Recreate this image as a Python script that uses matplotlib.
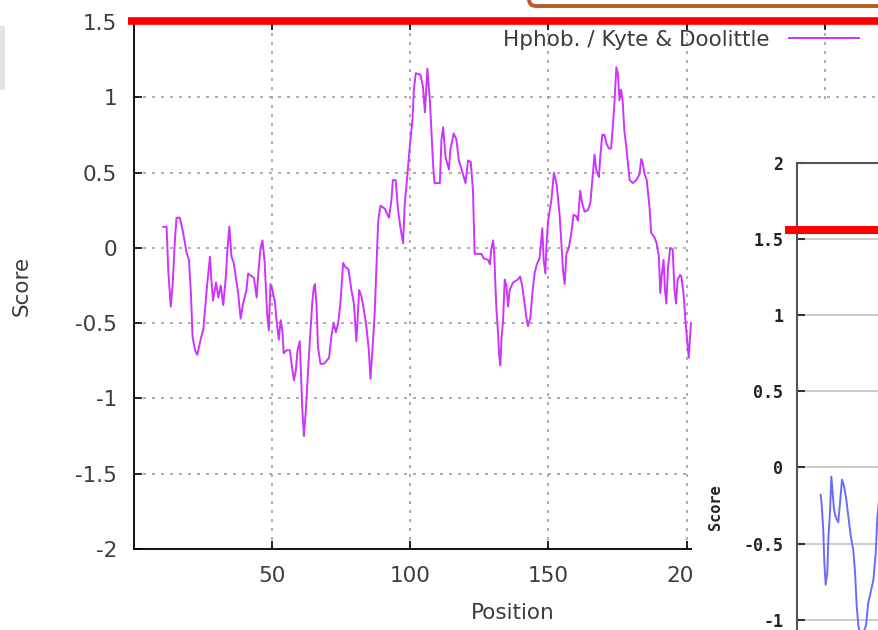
import matplotlib
matplotlib.use("Agg")
import matplotlib.pyplot as plt
from matplotlib.transforms import Affine2D
from matplotlib.patches import Rectangle, FancyBboxPatch
from matplotlib.lines import Line2D
from matplotlib.ticker import FuncFormatter

plt.rcParams['axes.unicode_minus'] = False

# hydrophobicity profile (Kyte & Doolittle)
position = [
    10.6, 11.8, 12.4, 13.3, 14.0, 14.8, 15.4, 16.6, 17.8, 19.0,
    19.9, 20.6, 21.2, 22.1, 22.9, 24.1, 25.1, 26.0, 26.5, 27.5,
    28.1, 28.6, 29.7, 30.5, 31.4, 32.3, 33.3, 33.7, 34.5, 35.3,
    36.1, 37.7, 38.6, 39.5, 40.7, 41.3, 43.4, 44.4, 44.9, 45.8,
    46.5, 47.3, 48.2, 48.8, 49.4, 50.1, 51.0, 51.6, 52.4, 53.1,
    53.7, 54.2, 55.2, 56.4, 57.2, 57.9, 58.6, 59.2, 60.0, 60.4,
    60.9, 61.5, 62.2, 62.7, 63.3, 63.9, 64.5, 65.1, 65.5, 66.1,
    66.6, 67.5, 68.7, 69.7, 70.6, 71.5, 72.3, 73.1, 73.9, 74.7,
    75.7, 76.6, 77.6, 78.7, 79.6, 80.5, 81.5, 82.3, 83.2, 84.1,
    85.0, 85.6, 86.3, 87.1, 87.7, 88.4, 89.2, 90.8, 92.3, 93.2,
    93.7, 94.7, 95.6, 96.4, 97.4, 98.0, 98.8, 99.8, 100.8, 101.3,
    102.0, 103.7, 104.6, 105.3, 106.2, 107.1, 107.7, 108.3, 108.8, 110.7,
    111.3, 111.9, 112.8, 114.0, 114.5, 115.7, 116.7, 117.6, 119.1, 120.0,
    120.9, 121.9, 122.7, 123.3, 125.7, 126.6, 128.2, 128.8, 129.4, 130.0,
    130.4, 130.8, 131.2, 131.8, 132.1, 132.6, 133.0, 133.6, 134.2, 134.8,
    135.4, 136.0, 137.2, 139.0, 139.8, 140.5, 141.4, 142.0, 142.6, 143.5,
    144.2, 145.0, 145.8, 146.8, 147.4, 147.8, 148.3, 148.9, 149.3, 149.9,
    150.5, 151.1, 152.0, 153.0, 154.1, 155.3, 155.9, 156.5, 157.4, 158.3,
    159.1, 160.1, 160.7, 161.5, 162.2, 163.1, 164.3, 165.2, 165.9, 166.7,
    167.3, 168.3, 168.8, 169.5, 170.3, 171.1, 171.9, 172.7, 173.3, 173.9,
    174.6, 175.2, 175.7, 176.3, 176.9, 177.5, 178.2, 178.8, 179.4, 180.6,
    181.8, 183.0, 183.6, 184.2, 184.8, 185.6, 186.6, 187.2, 188.4, 189.2,
    190.0, 190.5, 191.1, 191.7, 192.2, 192.7, 193.3, 194.1, 195.0, 195.6,
    196.2, 196.8, 197.7, 198.1, 198.9, 199.6, 200.2, 200.8, 201.6,
]
score = [
    0.14, 0.14, -0.15, -0.39, -0.24, 0.05, 0.20, 0.20, 0.10, -0.03,
    -0.08, -0.30, -0.59, -0.68, -0.71, -0.61, -0.54, -0.35, -0.24, -0.06,
    -0.24, -0.35, -0.23, -0.33, -0.25, -0.38, -0.18, -0.04, 0.14, -0.06,
    -0.10, -0.30, -0.47, -0.37, -0.28, -0.17, -0.20, -0.33, -0.19, 0.00,
    0.05, -0.10, -0.44, -0.55, -0.24, -0.28, -0.36, -0.48, -0.61, -0.48,
    -0.55, -0.70, -0.68, -0.68, -0.79, -0.88, -0.81, -0.68, -0.62, -0.81,
    -1.06, -1.25, -1.08, -0.92, -0.72, -0.55, -0.37, -0.26, -0.24, -0.39,
    -0.66, -0.77, -0.77, -0.75, -0.73, -0.58, -0.50, -0.56, -0.50, -0.37,
    -0.10, -0.13, -0.14, -0.28, -0.37, -0.62, -0.28, -0.32, -0.41, -0.52,
    -0.68, -0.87, -0.68, -0.44, -0.15, 0.18, 0.28, 0.26, 0.20, 0.32,
    0.45, 0.45, 0.25, 0.14, 0.03, 0.29, 0.45, 0.67, 0.85, 1.05,
    1.16, 1.15, 1.07, 0.90, 1.19, 0.98, 0.76, 0.54, 0.43, 0.43,
    0.72, 0.80, 0.60, 0.52, 0.65, 0.76, 0.72, 0.58, 0.49, 0.43,
    0.58, 0.57, 0.38, -0.04, -0.04, -0.07, -0.08, -0.11, 0.00, 0.05,
    -0.04, -0.24, -0.41, -0.57, -0.70, -0.78, -0.61, -0.48, -0.21, -0.25,
    -0.39, -0.28, -0.23, -0.21, -0.19, -0.25, -0.37, -0.46, -0.52, -0.46,
    -0.30, -0.17, -0.11, -0.07, 0.05, 0.13, -0.08, -0.17, 0.02, 0.18,
    0.25, 0.32, 0.50, 0.42, 0.21, -0.15, -0.24, -0.04, 0.00, 0.10,
    0.22, 0.21, 0.18, 0.38, 0.30, 0.24, 0.25, 0.30, 0.45, 0.62,
    0.52, 0.47, 0.61, 0.75, 0.75, 0.69, 0.66, 0.66, 0.80, 0.96,
    1.20, 1.15, 0.98, 1.05, 0.97, 0.78, 0.67, 0.56, 0.45, 0.43,
    0.45, 0.49, 0.59, 0.56, 0.49, 0.45, 0.27, 0.10, 0.07, 0.03,
    -0.06, -0.30, -0.17, -0.08, -0.28, -0.37, -0.13, 0.00, -0.01, -0.27,
    -0.37, -0.21, -0.18, -0.19, -0.30, -0.48, -0.61, -0.73, -0.50,
]
xticks = [50, 100, 150, 200, 250]
yticks = [-2, -1.5, -1, -0.5, 0, 0.5, 1, 1.5]

# second (overlapping) screenshot, blue profile
inset_pos = [15.8, 16.5, 17.5, 18.2, 19.1, 20.2, 20.9, 22.0, 22.9, 23.8,
             24.7, 26.0, 27.5, 28.7, 30.0, 31.3, 32.7, 34.2, 35.8, 37.5,
             38.7, 39.8, 40.9, 42.7, 46.0, 47.5, 49.1, 50.9, 52.5, 53.5,
             54.7, 56.0]
inset_score = [-0.18, -0.25, -0.41, -0.62, -0.77, -0.69, -0.47, -0.29, -0.06, -0.17,
               -0.28, -0.33, -0.36, -0.23, -0.08, -0.12, -0.20, -0.32, -0.45, -0.54,
               -0.69, -0.91, -1.04, -1.12, -1.04, -0.89, -0.82, -0.74, -0.56, -0.34,
               -0.21, -0.15]
inset_yticks = [-2.5, -2, -1.5, -1, -0.5, 0, 0.5, 1, 1.5, 2]

W, H = 879, 630
fig = plt.figure(figsize=(W / 100, H / 100), dpi=100)
# pixel coords, origin top-left
px = Affine2D().scale(1 / W, -1 / H).translate(0, 1) + fig.transFigure
fmt = FuncFormatter(lambda v, _: f"{v:g}")
txt = '#3c3c3c'

# main chart
ax = fig.add_axes([134 / W, 1 - 549 / H, 768 / W, 527 / H])
ax.plot(position, score, color='#cc33ff', lw=1.4, label='Hphob. / Kyte & Doolittle', zorder=3)
ax.set_xlim(0, 278)
ax.set_ylim(-2, 1.5)
ax.set_xticks(xticks)
ax.set_yticks(yticks)
ax.yaxis.set_major_formatter(fmt)
ax.grid(True, color='#a0a0a0', linestyle=(0, (1.8, 3.6)), lw=1.2)
ax.tick_params(direction='in', length=6, width=1.2, labelsize=15.5, labelcolor=txt,
               pad=12, top=True)
for s in ax.spines.values():
    s.set_linewidth(1.3)
ax.set_xlabel('Position', fontsize=15.5, color=txt)
ax.set_ylabel('Score', fontsize=15.5, color=txt)
ax.xaxis.set_label_coords((513 - 134) / 768, (549 - 603) / 527)
ax.yaxis.set_label_coords((32 - 134) / 768, 0.5)
ax.legend(loc='center right', bbox_to_anchor=(859, 40), bbox_transform=px,
          frameon=False, markerfirst=False, fontsize=15.5, labelcolor=txt,
          handlelength=3.25, handletextpad=0.9, borderpad=0, borderaxespad=0)

# white area of the overlapping screenshot
fig.add_artist(Rectangle((692, 105), 200, 540, transform=px, facecolor='white',
                         edgecolor='none', zorder=1.5))

ax2 = fig.add_axes([797 / W, 1 - 848 / H, 600 / W, 685 / H], zorder=2)
ax2.plot(inset_pos, inset_score, color='#6a6aff', lw=1.4)
ax2.set_xlim(0, 400)
ax2.set_ylim(-2.5, 2)
ax2.set_yticks(inset_yticks)
ax2.yaxis.set_major_formatter(fmt)
ax2.set_xticks([])
ax2.yaxis.grid(True, color='#c8c8c8', lw=1.3)
ax2.tick_params(axis='y', direction='in', length=6, width=1.5, color='#333333',
                labelsize=12, pad=10)
for lab in ax2.get_yticklabels():
    lab.set_fontfamily('DejaVu Sans Mono')
    lab.set_fontweight('bold')
    lab.set_color('#222222')
for s in ax2.spines.values():
    s.set_color('#555555')
    s.set_linewidth(1.5)
ax2.set_ylabel('Score', fontsize=11, family='DejaVu Sans Mono', fontweight='bold', color='#222222')
ax2.yaxis.set_label_coords((723 - 797) / 600, (848 - 507) / 685)

# screenshot annotations
fig.add_artist(Line2D([128, 879], [21, 21], transform=px, color='#ff0000', lw=5.5,
                      solid_capstyle='butt', zorder=5))
fig.add_artist(Line2D([785, 879], [230, 230], transform=px, color='#ff0000', lw=5.8,
                      solid_capstyle='butt', zorder=5))
fig.add_artist(FancyBboxPatch((529, -40), 400, 46, boxstyle='round,pad=0,rounding_size=7',
                              transform=px, facecolor='white', edgecolor='#b95b2b',
                              lw=2.8, zorder=5))
fig.add_artist(Rectangle((0, 26), 5, 64, transform=px, facecolor='#dfe4e8',
                         edgecolor='none', zorder=5))

fig.savefig('out.png', dpi=100)
